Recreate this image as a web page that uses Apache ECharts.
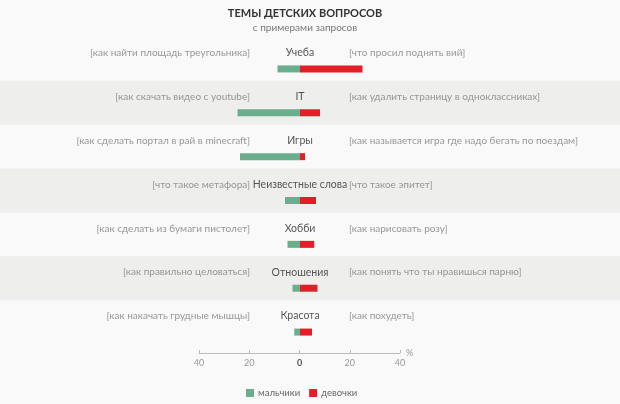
<!DOCTYPE html>
<html>
<head>
<meta charset="utf-8">
<script src="https://cdn.jsdelivr.net/npm/echarts@6/dist/echarts.min.js"></script>
<style>
html,body{margin:0;padding:0;background:#f9f9f9;}
#c{width:620px;height:404px;}
</style>
</head>
<body>
<div id="c"></div>
<script>
const categories = ['Учеба','IT','Игры','Неизвестные слова','Хобби','Отношения','Красота'];
const leftQuestions = ['[как найти площадь треугольника]','[как скачать видео с youtube]','[как сделать портал в рай в minecraft]','[что такое метафора]','[как сделать из бумаги пистолет]','[как правильно целоваться]','[как накачать грудные мышцы]'];
const rightQuestions = ['[что просил поднять вий]','[как удалить страницу в одноклассниках]','[как называется игра где надо бегать по поездам]','[что такое эпитет]','[как нарисовать розу]','[как понять что ты нравишься парню]','[как похудеть]'];
const boys = [9, 25, 24, 6, 5, 3, 2.3];
const girls = [25, 8, 2, 6.4, 5.7, 7, 4.8];
const seriesNames = ['мальчики','девочки'];
const axisTicks = [-40, -20, 0, 20, 40];

const FONT = 'Lato';
const chart = echarts.init(document.getElementById('c'));
const anchor = categories.map(c => [0, c]);
const txt = (pos, dist, color, weight) => ({
  show: true, position: pos, distance: dist, offset: [0, -16],
  color: color, fontSize: 10, fontFamily: FONT, fontWeight: weight
});
chart.setOption({
  backgroundColor: '#f9f9f9',
  title: {
    text: 'ТЕМЫ ДЕТСКИХ ВОПРОСОВ', subtext: 'с примерами запросов',
    left: 300, textAlign: 'center', top: 3, itemGap: 4,
    textStyle: {fontSize: 11, fontWeight: 'bold', color: '#333', fontFamily: FONT},
    subtextStyle: {fontSize: 10, color: '#777', fontFamily: FONT}
  },
  legend: {
    data: seriesNames, left: 241, top: 383, icon: 'rect',
    itemWidth: 8, itemHeight: 8, itemGap: 9,
    textStyle: {fontSize: 9.5, color: '#666', fontFamily: FONT, padding: [0,0,0,-1]}
  },
  grid: [
    {left: 0, right: 0, top: 37, height: 307},
    {left: 0, right: 0, top: 47, height: 307},
    {left: 199, width: 201, top: 352, height: 1}
  ],
  xAxis: [
    {gridIndex: 0, type: 'value', min: -120, max: 128, show: false},
    {gridIndex: 1, type: 'value', min: -120, max: 128, show: false},
    {gridIndex: 2, type: 'value', min: axisTicks[0], max: axisTicks[axisTicks.length-1],
     interval: axisTicks[1]-axisTicks[0], position: 'bottom',
     name: '%', nameLocation: 'end', nameGap: 6,
     nameTextStyle: {color: '#999', fontSize: 9, fontFamily: FONT, verticalAlign: 'middle', padding: [4,0,0,0]},
     axisLine: {lineStyle: {color: '#bbb'}},
     axisTick: {show: true, inside: true, length: 3, lineStyle: {color: '#bbb'}},
     splitLine: {show: false},
     axisLabel: {margin: 6, color: '#999', fontSize: 9, fontFamily: FONT,
       formatter: v => v === 0 ? '{b|0}' : String(Math.abs(v)),
       rich: {b: {fontWeight: 'bold', color: '#555', fontSize: 9, fontFamily: FONT}}}}
  ],
  yAxis: [
    {gridIndex: 0, type: 'category', data: categories, inverse: true,
     axisLine: {show: false}, axisTick: {show: false}, axisLabel: {show: false},
     splitArea: {show: true, areaStyle: {color: ['rgba(0,0,0,0)', '#eeeeed']}}},
    {gridIndex: 1, type: 'category', data: categories, inverse: true, show: false},
    {gridIndex: 2, type: 'value', show: false}
  ],
  series: [
    {name: seriesNames[0], type: 'bar', stack: 'a', xAxisIndex: 1, yAxisIndex: 1,
     barWidth: 7, itemStyle: {color: '#6aae8d'}, data: boys.map(v => -v), silent: true},
    {name: seriesNames[1], type: 'bar', stack: 'a', xAxisIndex: 1, yAxisIndex: 1,
     barWidth: 7, itemStyle: {color: '#e31e26'}, data: girls, silent: true},
    {type: 'scatter', xAxisIndex: 1, yAxisIndex: 1, symbolSize: 0, data: anchor, silent: true,
     label: Object.assign(txt('inside', 0, '#2e2e2e', 'normal'), {formatter: p => categories[p.dataIndex], fontSize: 10.5})},
    {type: 'scatter', xAxisIndex: 1, yAxisIndex: 1, symbolSize: 0, data: anchor, silent: true,
     label: Object.assign(txt('left', 50, '#808080', 'normal'), {formatter: p => leftQuestions[p.dataIndex]})},
    {type: 'scatter', xAxisIndex: 1, yAxisIndex: 1, symbolSize: 0, data: anchor, silent: true,
     label: Object.assign(txt('right', 49, '#808080', 'normal'), {formatter: p => rightQuestions[p.dataIndex]})}
  ]
});
</script>
</body>
</html>
